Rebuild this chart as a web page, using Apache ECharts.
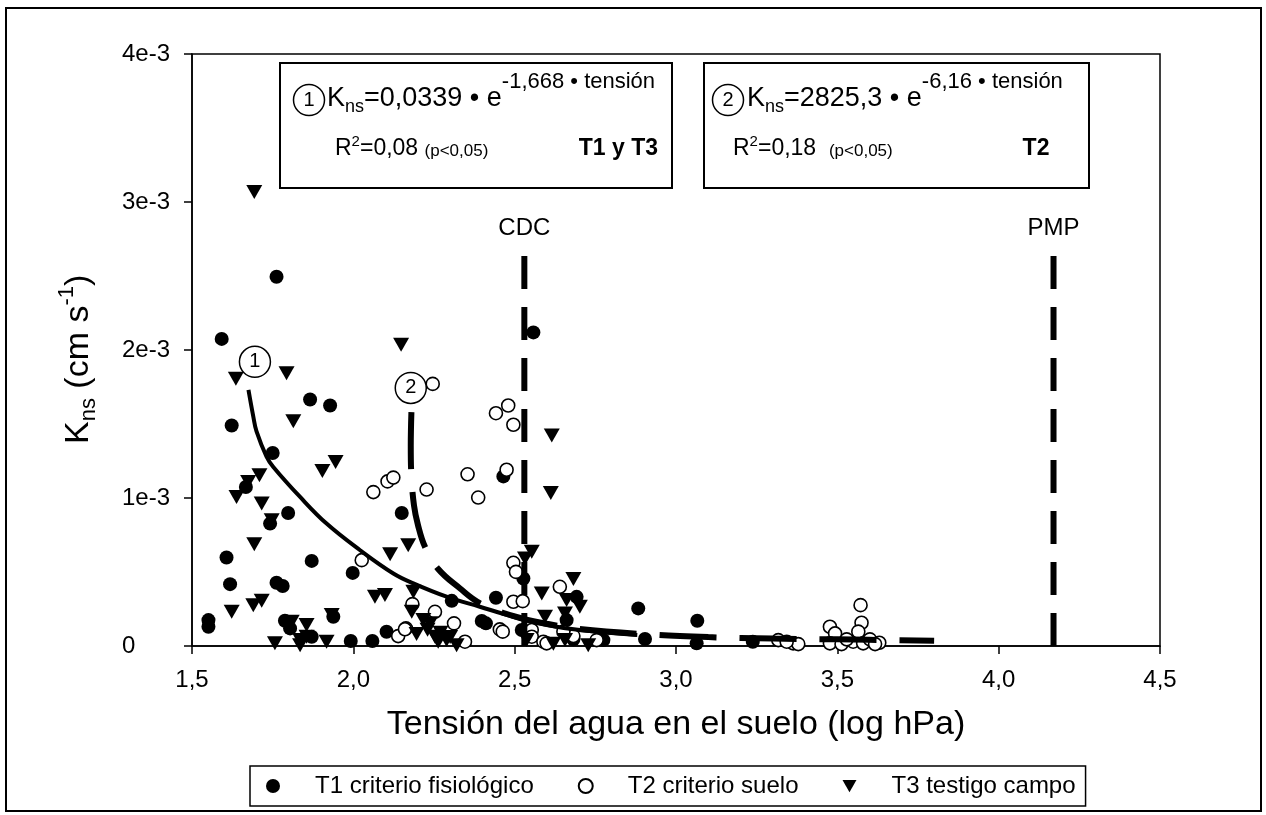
<!DOCTYPE html>
<html><head><meta charset="utf-8">
<script src="https://cdn.jsdelivr.net/npm/echarts@6/dist/echarts.min.js"></script>
<style>html,body{margin:0;padding:0;background:#fff}#c{width:1266px;height:815px}</style>
</head><body><div id="c"></div>
<script>
// ---------- data (Kns in units of 1e-3 cm s-1) ----------
const xTickLabels = ['1,5','2,0','2,5','3,0','3,5','4,0','4,5'];
const yTickLabels = ['0','1e-3','2e-3','3e-3','4e-3'];
const seriesNames = ['T1 criterio fisiológico','T2 criterio suelo','T3 testigo campo'];

const t1 = [[1.762,2.495],[1.592,2.075],[1.866,1.666],[1.928,1.625],[1.623,1.490],[1.750,1.304],[1.667,1.074],[1.798,0.899],[1.742,0.827],[1.607,0.598],[1.871,0.575],[1.618,0.418],[1.762,0.427],[1.781,0.405],[1.998,0.494],[2.150,0.899],[1.551,0.175],[1.551,0.130],[1.788,0.171],[1.804,0.119],[1.938,0.198],[1.871,0.063],[1.992,0.034],[2.059,0.034],[2.103,0.096],[2.558,2.119],[2.465,1.146],[2.305,0.305],[2.442,0.326],[2.398,0.169],[2.411,0.153],[2.527,0.456],[2.522,0.108],[2.692,0.332],[2.883,0.254],[2.904,0.047],[2.661,0.175],[2.682,0.045],[3.066,0.171],[3.064,0.018],[2.775,0.040],[3.238,0.029]];

const t2 = [[2.246,1.771],[2.442,1.573],[2.480,1.625],[2.496,1.495],[2.062,1.040],[2.106,1.112],[2.124,1.138],[2.227,1.057],[2.354,1.160],[2.387,1.003],[2.475,1.191],[2.026,0.580],[2.183,0.283],[2.253,0.231],[2.163,0.119],[2.139,0.067],[2.496,0.562],[2.504,0.501],[2.496,0.299],[2.525,0.303],[2.640,0.400],[2.312,0.153],[2.454,0.112],[2.463,0.097],[2.346,0.029],[2.553,0.108],[2.553,0.063],[2.589,0.029],[2.599,0.018],[2.682,0.067],[2.651,0.097],[2.754,0.040],[3.317,0.040],[3.363,0.018],[3.379,0.013],[3.343,0.029],[3.477,0.130],[3.493,0.085],[3.477,0.018],[3.513,0.013],[3.549,0.029],[3.572,0.276],[3.575,0.157],[3.565,0.097],[3.580,0.018],[3.601,0.045],[3.630,0.022],[3.617,0.013],[3.529,0.045],[2.160,0.113]];

const t3 = [[1.693,3.068],[2.148,2.036],[1.636,1.805],[1.793,1.843],[1.814,1.519],[1.904,1.182],[1.945,1.243],[1.638,1.007],[1.674,1.108],[1.709,1.153],[1.716,0.962],[1.747,0.850],[1.693,0.688],[1.623,0.231],[1.690,0.276],[1.716,0.305],[1.757,0.018],[1.835,0.040],[1.835,0.005],[1.855,0.063],[1.855,0.142],[1.809,0.164],[1.917,0.029],[1.933,0.209],[2.114,0.620],[2.170,0.681],[2.067,0.332],[2.098,0.344],[2.186,0.366],[2.615,1.423],[2.553,0.636],[2.532,0.591],[2.612,1.034],[2.682,0.452],[2.584,0.355],[2.661,0.310],[2.702,0.265],[2.594,0.198],[2.656,0.220],[2.181,0.231],[2.217,0.175],[2.238,0.153],[2.196,0.081],[2.253,0.063],[2.289,0.040],[2.320,0.005],[2.263,0.029],[2.728,0.005],[2.620,0.016],[2.656,0.040],[2.537,0.040],[2.230,0.110],[2.270,0.090],[2.300,0.060]];

// fitted curves as drawn in the figure
const fit1 = [[1.675,1.73],[1.690,1.55],[1.700,1.45],[1.731,1.28],[1.752,1.21],[1.835,1.007],[1.917,0.827],[2.021,0.647],[2.124,0.490],[2.186,0.423],[2.289,0.333],[2.392,0.265],[2.496,0.198],[2.599,0.142],[2.702,0.108],[2.880,0.075]];
const fit2 = [[2.180,1.58],[2.178,1.35],[2.180,1.15],[2.188,0.95],[2.200,0.82],[2.222,0.67],[2.263,0.52],[2.330,0.39],[2.392,0.29],[2.500,0.20],[2.600,0.15],[2.700,0.115],[2.900,0.080],[3.100,0.060],[3.300,0.050],[3.500,0.045],[3.800,0.035]];

const cdcLine = [[2.53,0],[2.53,2.67]];
const pmpLine = [[4.17,0],[4.17,2.67]];
const refLabels = [[2.53,2.67,'CDC'],[4.17,2.67,'PMP']];
const fitMarks = [[1.695,1.92,'1'],[2.178,1.744,'2']];

// ---------- layout helpers ----------
const FONT = '"Liberation Sans", Arial, Helvetica, sans-serif';
const mctx = document.createElement('canvas').getContext('2d');
function runs(x, baseline, list) {
  const out = [];
  for (const p of list) {
    const t = p[0], size = p[1], rise = p[2] || 0, weight = p[3] || 'normal';
    const font = weight + ' ' + size + 'px ' + FONT;
    mctx.font = font;
    out.push({type:'text', z:100, style:{text:t, x:x, y:baseline - rise - 0.3465*size, font:font, fill:'#000', align:'left', verticalAlign:'middle'}});
    x += mctx.measureText(t).width;
  }
  return out;
}
function txt(t, x, baseline, size, weight, align) {
  const font = (weight||'normal') + ' ' + size + 'px ' + FONT;
  return {type:'text', z:100, style:{text:t, x:x, y:baseline - 0.3465*size, font:font, fill:'#000', align:align||'left', verticalAlign:'middle'}};
}
function circ(cx, cy, r, label) {
  return [{type:'circle', z:100, shape:{cx:cx, cy:cy, r:r}, style:{fill:'#fff', stroke:'#000', lineWidth:1.5}},
          {type:'text', z:101, style:{text:label, x:cx, y:cy, font:'20px '+FONT, fill:'#000', align:'center', verticalAlign:'middle'}}];
}

const TRI = 'path://M0,0L16,0L8,14Z';

const graphics = [
  {type:'rect', z:90, shape:{x:6, y:8, width:1255, height:803}, style:{fill:'none', stroke:'#000', lineWidth:2}},
  {type:'rect', z:90, shape:{x:280, y:63, width:392, height:125}, style:{fill:'#fff', stroke:'#000', lineWidth:2}},
  {type:'rect', z:90, shape:{x:704, y:63, width:385, height:125}, style:{fill:'#fff', stroke:'#000', lineWidth:2}},
  ...circ(309, 100, 15.5, '1'),
  ...runs(327, 108, [['K',27],['ns',18,-5],['=0,0339 • e',27],['-1,668 • tensión',22,18]]),
  ...runs(335, 157, [['R',23],['2',15,10],['=0,08 ',23],['(p<0,05)',17]]),
  txt('T1 y T3', 658, 157, 23, 'bold', 'right'),
  ...circ(728, 100, 15.5, '2'),
  ...runs(747, 108, [['K',27],['ns',18,-5],['=2825,3 • e',27],['-6,16 • tensión',22,18]]),
  ...runs(733, 157, [['R',23],['2',15,10],['=0,18  ',23],['(p<0,05)',17]]),
  txt('T2', 1036, 157, 23, 'bold', 'center'),
  {type:'group', x:90, y:444, rotation:Math.PI/2, children: runs(0, 0, [['K',34],['ns',22,-7],[' (cm s',34],['-1',22,15],[')',34]])}
];

const chart = echarts.init(document.getElementById('c'), null, {renderer:'canvas'});
chart.setOption({
  animation:false,
  backgroundColor:'#fff',
  textStyle:{fontFamily:FONT, color:'#000'},
  grid:{left:192, right:106, top:54, bottom:169, show:true, borderColor:'#000', borderWidth:1.5, backgroundColor:'rgba(0,0,0,0)'},
  xAxis:{type:'value', min:1.5, max:4.5, interval:0.5,
    axisLine:{lineStyle:{color:'#000', width:1.5}},
    axisTick:{show:true, inside:false, length:8, lineStyle:{color:'#000', width:1.5}},
    splitLine:{show:false},
    axisLabel:{fontSize:24, color:'#000', margin:22, fontFamily:FONT, formatter:v => xTickLabels[Math.round((v-1.5)/0.5)]},
    name:'Tensión del agua en el suelo (log hPa)', nameLocation:'middle', nameGap:62,
    nameTextStyle:{fontSize:34, color:'#000', fontFamily:FONT}},
  yAxis:{type:'value', min:0, max:4, interval:1,
    axisLine:{show:true, lineStyle:{color:'#000', width:1.5}},
    axisTick:{show:true, inside:false, length:8, lineStyle:{color:'#000', width:1.5}},
    splitLine:{show:false},
    axisLabel:{fontSize:24, color:'#000', margin:70, align:'left', fontFamily:FONT, formatter:v => yTickLabels[Math.round(v)]}},
  legend:{left:250, top:766, orient:'horizontal', selectedMode:false,
    padding:[8,10,8,16], itemGap:44, itemWidth:14, itemHeight:14,
    borderColor:'#000', borderWidth:1.5,
    textStyle:{fontSize:24, color:'#000', fontFamily:FONT, padding:[0,0,0,30]},
    data:[{name:seriesNames[0], icon:'circle'},{name:seriesNames[1], icon:'circle'},{name:seriesNames[2], icon:TRI}]},
  graphic:graphics,
  series:[
    {name:seriesNames[0], type:'scatter', data:t1, symbol:'circle', symbolSize:14, itemStyle:{color:'#000', opacity:1}, z:3},
    {name:seriesNames[1], type:'scatter', data:t2, symbol:'circle', symbolSize:13, itemStyle:{color:'#fff', borderColor:'#000', borderWidth:1.6, opacity:1}, z:4},
    {name:seriesNames[2], type:'scatter', data:t3, symbol:TRI, symbolSize:[16,14], itemStyle:{color:'#000', opacity:1}, z:5},
    {type:'line', data:fit1, smooth:0.4, symbol:'none', lineStyle:{color:'#000', width:4, opacity:1}, z:6},
    {type:'line', data:fit2, smooth:0.4, symbol:'none', lineStyle:{color:'#000', width:6, type:[57,23], opacity:1}, z:6},
    {type:'line', data:cdcLine, symbol:'none', lineStyle:{color:'#000', width:6, type:[33,18], opacity:1}, z:6},
    {type:'line', data:pmpLine, symbol:'none', lineStyle:{color:'#000', width:6, type:[33,18], opacity:1}, z:6},
    {type:'scatter', data:refLabels, symbolSize:1, itemStyle:{color:'rgba(0,0,0,0)', opacity:1}, z:7,
      label:{show:true, position:'top', distance:10, formatter:p => p.value[2], fontSize:24, color:'#000', opacity:1, fontFamily:FONT}},
    {type:'scatter', data:fitMarks, symbol:'circle', symbolSize:31, itemStyle:{color:'#fff', borderColor:'#000', borderWidth:1.5, opacity:1}, z:8,
      label:{show:true, position:'inside', formatter:p => p.value[2], fontSize:20, color:'#000', opacity:1, fontFamily:FONT}}
  ]
});
</script></body></html>
